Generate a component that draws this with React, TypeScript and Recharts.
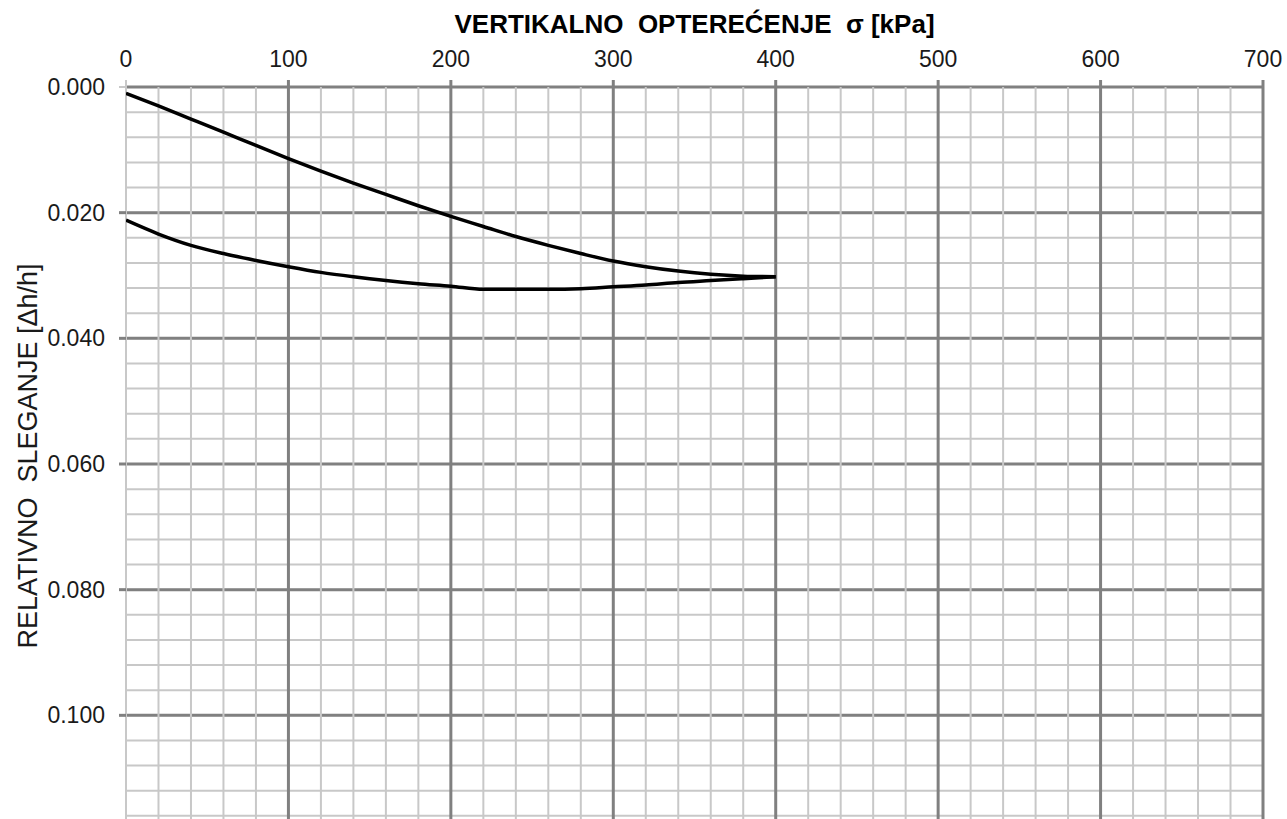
import React from 'react';
import { LineChart, Line, XAxis, YAxis, CartesianGrid, ReferenceLine } from 'recharts';

// Oedometer test: vertical load σ [kPa] vs relative settlement Δh/h
const loadingSigma = [0, 20, 40, 60, 80, 100, 120, 140, 160, 180, 200, 220, 240, 260, 280, 300, 320, 340, 360, 380, 400];
const loadingStrain = [0.0010, 0.0030, 0.0051, 0.0072, 0.0093, 0.0114, 0.0134, 0.0153, 0.0171, 0.0189, 0.0206, 0.0222, 0.0238, 0.0252, 0.0265, 0.0277, 0.0286, 0.0293, 0.0298, 0.0301, 0.0302];

const unloadingSigma = [400, 380, 360, 340, 320, 300, 280, 260, 240, 220, 200, 180, 160, 140, 120, 100, 80, 60, 40, 20, 0];
const unloadingStrain = [0.0302, 0.0305, 0.0308, 0.0311, 0.0315, 0.0318, 0.0321, 0.0322, 0.0322, 0.0322, 0.0317, 0.0313, 0.0308, 0.0302, 0.0295, 0.0286, 0.0276, 0.0265, 0.0252, 0.0234, 0.0212];

const xTicks = [0, 100, 200, 300, 400, 500, 600, 700];
const yTicks = [0, 0.02, 0.04, 0.06, 0.08, 0.1];
const xMinor = [0, 20, 40, 60, 80, 120, 140, 160, 180, 220, 240, 260, 280, 320, 340, 360, 380, 420, 440, 460, 480, 520, 540, 560, 580, 620, 640, 660, 680];
const yMinor = [0, 0.004, 0.008, 0.012, 0.016, 0.02, 0.024, 0.028, 0.032, 0.036, 0.04, 0.044, 0.048, 0.052, 0.056, 0.06, 0.064, 0.068, 0.072, 0.076, 0.08, 0.084, 0.088, 0.092, 0.096, 0.1, 0.104, 0.108, 0.112, 0.116, 0.12];
const xMajor = [100, 200, 300, 400, 500, 600, 700];
const yMajor = [0.02, 0.04, 0.06, 0.08, 0.1, 0.12];

const loading = loadingSigma.map((s, i) => ({ s, d: loadingStrain[i] }));
const unloading = unloadingSigma.map((s, i) => ({ s, d: unloadingStrain[i] }));

const FONT = '"Liberation Sans", Arial, sans-serif';
const MINOR = '#c8c8c8';
const MAJOR = '#808080';
const X_DOMAIN: [number, number] = [0, 700];
const Y_DOMAIN: [number, number] = [0, 0.12];

const XTick = (props: any) => {
  const { x, y, payload } = props;
  const v = payload.value;
  return (
    <g>
      <line x1={x} x2={x} y1={y} y2={y - 7} stroke={v === 0 ? MINOR : MAJOR} strokeWidth={v === 0 ? 2 : 3} />
      <text x={x} y={y - 20} textAnchor="middle" fontFamily={FONT} fontSize={23} fill="#1a1a1a">
        {v}
      </text>
    </g>
  );
};

const YTick = (props: any) => {
  const { x, y, payload } = props;
  const v = payload.value;
  return (
    <g>
      <line x1={x} x2={x - 7} y1={y} y2={y} stroke={v === 0 ? MINOR : MAJOR} strokeWidth={v === 0 ? 2 : 3} />
      <text x={x - 21} y={y + 8} textAnchor="end" fontFamily={FONT} fontSize={23} fill="#1a1a1a">
        {v.toFixed(3)}
      </text>
    </g>
  );
};

const TitleLabel = (props: any) => {
  const vb = props.viewBox;
  return (
    <text x={vb.x + vb.width / 2} y={33} textAnchor="middle" fontFamily={FONT} fontWeight="bold" fontSize={26} fill="#000" xmlSpace="preserve">
      VERTIKALNO  OPTEREĆENJE  σ [kPa]
    </text>
  );
};

const YLabel = () => {
  const cx = 37;
  const cy = 456;
  return (
    <text x={cx} y={cy} textAnchor="middle" fontFamily={FONT} fontSize={27} fill="#1a1a1a" transform={`rotate(-90, ${cx}, ${cy})`} xmlSpace="preserve">
      RELATIVNO  SLEGANJE [Δh/h]
    </text>
  );
};

export default function App() {
  return (
    <div style={{ position: 'fixed', left: 0, top: 0, width: 1287, height: 819, overflow: 'hidden', background: '#fff' }}>
      <LineChart width={1287} height={841} margin={{ top: 0, right: 24, bottom: 0, left: 0 }}>
        {/* hidden y axes that only carry the horizontal grid positions */}
        <YAxis yAxisId="minor" dataKey="d" type="number" reversed domain={Y_DOMAIN} ticks={yMinor} interval={0} hide allowDataOverflow />
        <YAxis yAxisId="major" dataKey="d" type="number" reversed domain={Y_DOMAIN} ticks={yMajor} interval={0} hide allowDataOverflow />
        <CartesianGrid yAxisId="minor" vertical={false} stroke={MINOR} strokeWidth={2} />
        <CartesianGrid yAxisId="major" vertical={false} stroke={MAJOR} strokeWidth={3} />
        {xMinor.map((v) => (
          <ReferenceLine key={`xm${v}`} x={v} stroke={MINOR} strokeWidth={2} />
        ))}
        {xMajor.map((v) => (
          <ReferenceLine key={`xM${v}`} x={v} stroke={MAJOR} strokeWidth={3} />
        ))}
        <XAxis
          type="number"
          dataKey="s"
          orientation="top"
          domain={X_DOMAIN}
          ticks={xTicks}
          interval={0}
          height={87}
          axisLine={false}
          tickLine={false}
          tickSize={0}
          tickMargin={0}
          tick={<XTick />}
          label={<TitleLabel />}
          allowDataOverflow
        />
        <YAxis
          type="number"
          dataKey="d"
          reversed
          domain={Y_DOMAIN}
          ticks={yTicks}
          interval={0}
          width={126}
          axisLine={false}
          tickLine={false}
          tickSize={0}
          tickMargin={0}
          tick={<YTick />}
          label={<YLabel />}
          allowDataOverflow
        />
        <Line data={loading} dataKey="d" type="monotone" stroke="#000" strokeWidth={3.5} dot={false} isAnimationActive={false} />
        <Line data={unloading} dataKey="d" type="monotone" stroke="#000" strokeWidth={3.5} dot={false} isAnimationActive={false} />
      </LineChart>
    </div>
  );
}
